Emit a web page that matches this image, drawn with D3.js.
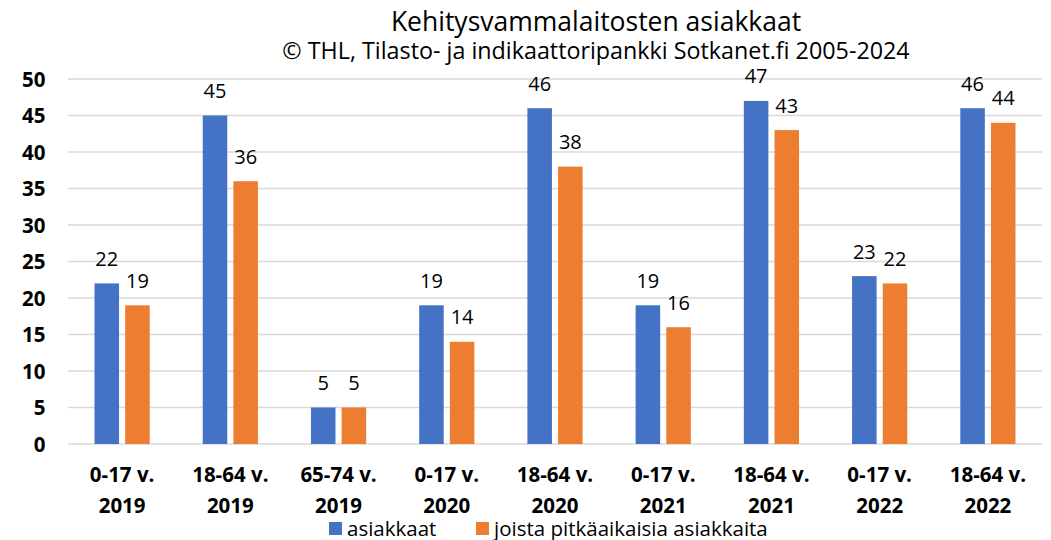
<!DOCTYPE html>
<html lang="en">
<head>
  <meta charset="UTF-8">
  <title>Kehitysvammalaitosten asiakkaat</title>
  <style>
    body, html {
      margin: 0;
      padding: 0;
      background-color: #fff;
    }
    svg text {
      font-family: 'Open Sans', sans-serif;
      fill: #000;
    }
  </style>
</head>
<body>
  <svg id="svg" width="1051" height="540"></svg>
  <script src="https://d3js.org/d3.v7.min.js"></script>
  <script>
    const ageGroups = ['0-17 v.', '18-64 v.', '65-74 v.', '0-17 v.', '18-64 v.', '0-17 v.', '18-64 v.', '0-17 v.', '18-64 v.']
    const years = ['2019', '2019', '2019', '2020', '2020', '2021', '2021', '2022', '2022']
    const asiakkaat = [22, 45, 5, 19, 46, 19, 47, 23, 46]
    const pitkaaikaisia = [19, 36, 5, 14, 38, 16, 43, 22, 44]
    const seriesNames = ['asiakkaat', 'joista pitkäaikaisia asiakkaita']
    const yTicks = [0, 5, 10, 15, 20, 25, 30, 35, 40, 45, 50]

    const colors = ['#4472c4', '#ed7d31']
    const data = ageGroups.map((a, i) => ({ key: i, age: a, year: years[i], values: [asiakkaat[i], pitkaaikaisia[i]] }))

    const svg = d3.select('#svg')
    const plotLeft = 68, plotRight = 1042, plotTop = 79, plotBottom = 444

    const xScale = d3.scaleBand()
      .domain(data.map(d => d.key))
      .range([plotLeft, plotRight])
    const step = xScale.bandwidth()
    const innerScale = d3.scaleBand()
      .domain([0, 1])
      .range([step * 0.245, step * 0.755])
      .paddingInner(0.2)
    const yScale = d3.scaleLinear()
      .domain([0, 50])
      .range([plotBottom, plotTop])

    // gridlines
    svg.append('g')
      .selectAll('line')
      .data(yTicks)
      .enter()
      .append('line')
      .attr('x1', plotLeft)
      .attr('x2', plotRight)
      .attr('y1', d => yScale(d))
      .attr('y2', d => yScale(d))
      .attr('stroke', '#d9d9d9')
      .attr('stroke-width', 1.3)

    const leftAxis = d3.axisLeft(yScale).tickValues(yTicks).tickSize(0).tickPadding(0)
    const yAxis = svg.append('g')
      .attr('transform', `translate(45.5, 0)`)
      .call(leftAxis)
    yAxis.select('.domain').remove()
    yAxis.selectAll('text')
      .attr('font-family', null)
      .attr('dy', '0.36em')
      .style('font-size', '20.5px')
      .style('font-weight', 'bold')

    const groups = svg.append('g')
      .selectAll('g')
      .data(data)
      .enter()
      .append('g')
      .attr('transform', d => `translate(${xScale(d.key)}, 0)`)

    groups.selectAll('rect')
      .data(d => d.values)
      .enter()
      .append('rect')
      .attr('x', (v, i) => innerScale(i))
      .attr('width', innerScale.bandwidth())
      .attr('y', v => yScale(v))
      .attr('height', v => yScale(0) - yScale(v))
      .attr('fill', (v, i) => colors[i])

    groups.selectAll('text.val')
      .data(d => d.values)
      .enter()
      .append('text')
      .attr('class', 'val')
      .attr('x', (v, i) => innerScale(i) + innerScale.bandwidth() / 2)
      .attr('y', v => yScale(v) - 17.5)
      .attr('text-anchor', 'middle')
      .style('font-size', '20px')
      .text(v => v)

    // category labels
    groups.append('text')
      .attr('x', step / 2)
      .attr('y', 482)
      .attr('text-anchor', 'middle')
      .style('font-size', '20.5px')
      .style('font-weight', 'bold')
      .text(d => d.age)
    groups.append('text')
      .attr('x', step / 2)
      .attr('y', 513)
      .attr('text-anchor', 'middle')
      .style('font-size', '20.5px')
      .style('font-weight', 'bold')
      .text(d => d.year)

    // title
    svg.append('text')
      .attr('x', 596)
      .attr('y', 31)
      .attr('text-anchor', 'middle')
      .style('font-size', '26.5px')
      .text('Kehitysvammalaitosten asiakkaat')
    svg.append('text')
      .attr('x', 596)
      .attr('y', 59)
      .attr('text-anchor', 'middle')
      .style('font-size', '23.3px')
      .text('© THL, Tilasto- ja indikaattoripankki Sotkanet.fi 2005-2024')

    // legend
    const legendX = [329, 476]
    const legend = svg.append('g')
      .selectAll('g')
      .data(seriesNames)
      .enter()
      .append('g')
      .attr('transform', (d, i) => `translate(${legendX[i]}, 522)`)
    legend.append('rect')
      .attr('width', 13)
      .attr('height', 13)
      .attr('fill', (d, i) => colors[i])
    legend.append('text')
      .attr('x', 18)
      .attr('y', 13.5)
      .style('font-size', '20.5px')
      .text(d => d)
  </script>
</body>
</html>
